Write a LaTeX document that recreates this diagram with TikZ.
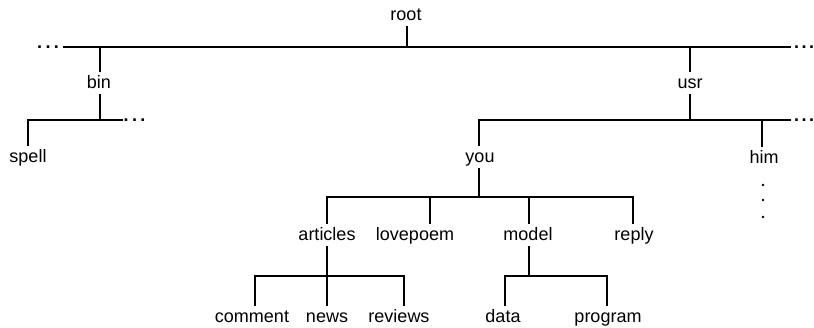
\documentclass[tikz,border=0pt]{standalone}
\usepackage{fontspec}
\setmainfont{Liberation Sans}
\begin{document}
\begin{tikzpicture}[x=1pt,y=-1pt,
  lbl/.style={font=\fontsize{18}{20}\selectfont, text height=14pt, text depth=4pt, inner sep=2pt, anchor=base},
  link/.style={line width=1.8pt, line join=miter},
  dotrow/.style={font=\fontsize{18}{20}\selectfont\bfseries, inner sep=0pt, anchor=base west},
  vdot/.style={fill=black}]
\useasboundingbox (0,0) rectangle (814,327);
% labels
\node[lbl] (root) at (406,20) {root};
\node[lbl] (bin) at (99,88) {bin};
\node[lbl] (usr) at (690,88) {usr};
\node[lbl] (spell) at (28,162) {spell};
\node[lbl] (you) at (480,162) {you};
\node[lbl] (him) at (764,163) {him};
\node[lbl] (articles) at (327,240) {articles};
\node[lbl] (lovepoem) at (415,240) {lovepoem};
\node[lbl] (model) at (528,240) {model};
\node[lbl] (reply) at (634,240) {reply};
\node[lbl] (comment) at (252,322) {comment};
\node[lbl] (news) at (327,322) {news};
\node[lbl] (reviews) at (399,322) {reviews};
\node[lbl] (data) at (503,322) {data};
\node[lbl] (program) at (608,322) {program};
% dots
\node[dotrow] (d1) at (37,48.5) {.\hspace{3.4pt}.\hspace{3.4pt}.};
\node[dotrow] (d2) at (794,48.5) {.\hspace{2.4pt}.\hspace{2.4pt}.};
\node[dotrow] (d3) at (123.5,121) {.\hspace{3.4pt}.\hspace{3.4pt}.};
\node[dotrow] (d4) at (794,121.5) {.\hspace{2.4pt}.\hspace{2.4pt}.};
\fill[vdot] (763,185) circle (1.4);
\fill[vdot] (763,200) circle (1.4);
\fill[vdot] (763,217) circle (1.4);
% junction coordinates
\coordinate (t0) at (63,47);
\coordinate (tbin) at (100,47);
\coordinate (troot) at (407,47);
\coordinate (tusr) at (690,47);
\coordinate (t1) at (791,47);
\coordinate (bspell) at (28,120);
\coordinate (bbin) at (100,120);
\coordinate (b1) at (123,120);
\coordinate (uyou) at (479,120);
\coordinate (uhim) at (762,120);
\coordinate (uusr) at (690,120);
\coordinate (u1) at (791,120);
\coordinate (ya) at (327,197);
\coordinate (yl) at (430,197);
\coordinate (yy) at (479,197);
\coordinate (ym) at (529,197);
\coordinate (yr) at (633,197);
\coordinate (ac) at (255,276);
\coordinate (an) at (327,276);
\coordinate (ar) at (404,276);
\coordinate (md) at (505,276);
\coordinate (mm) at (529,276);
\coordinate (mp) at (607,276);
% top level
\draw[link] (t0) -- (t1);
\draw[link] (root.south -| troot) -- (troot);
\draw[link] (tbin) -- (bin.north -| tbin);
\draw[link] (tusr) -- (usr.north -| tusr);
% bin
\draw[link] (bin.south -| bbin) -- (bbin);
\draw[link] (spell.north -| bspell) -- (bspell) -- (b1);
% usr
\draw[link] (usr.south -| uusr) -- (uusr);
\draw[link] (you.north -| uyou) -- (uyou) -- (u1);
\draw[link] (uhim) -- (him.north -| uhim);
% you
\draw[link] (you.south -| yy) -- (yy);
\draw[link] (articles.north -| ya) -- (ya) -- (yr) -- (reply.north -| yr);
\draw[link] (yl) -- (lovepoem.north -| yl);
\draw[link] (ym) -- (model.north -| ym);
% articles
\draw[link] (articles.south -| an) -- (an);
\draw[link] (comment.north -| ac) -- (ac) -- (ar) -- (reviews.north -| ar);
\draw[link] (an) -- (news.north -| an);
% model
\draw[link] (model.south -| mm) -- (mm);
\draw[link] (data.north -| md) -- (md) -- (mp) -- (program.north -| mp);
\end{tikzpicture}
\end{document}
